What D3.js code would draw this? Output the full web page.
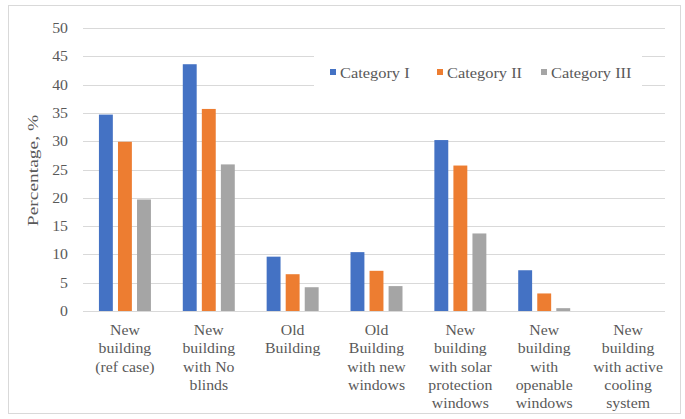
<!DOCTYPE html>
<html>
<head>
<meta charset="utf-8">
<script src="https://cdn.jsdelivr.net/npm/d3@7"></script>
<style>
  body { margin: 0; background: #fff; }
  svg text { font-family: "Liberation Serif", "Times New Roman", serif; }
</style>
</head>
<body>
<svg id="chart" width="685" height="419"></svg>
<script>
const categories = [
  ['New', 'building', '(ref case)'],
  ['New', 'building', 'with No', 'blinds'],
  ['Old', 'Building'],
  ['Old', 'Building', 'with new', 'windows'],
  ['New', 'building', 'with solar', 'protection', 'windows'],
  ['New', 'building', 'with', 'openable', 'windows'],
  ['New', 'building', 'with active', 'cooling', 'system']
];
const seriesNames = ['Category I', 'Category II', 'Category III'];
const categoryI = [34.7, 43.6, 9.6, 10.4, 30.2, 7.2, 0];
const categoryII = [29.9, 35.7, 6.5, 7.1, 25.7, 3.1, 0];
const categoryIII = [19.7, 25.9, 4.2, 4.4, 13.7, 0.5, 0];
const yTicks = [0, 5, 10, 15, 20, 25, 30, 35, 40, 45, 50];

const colors = ['#4472C4', '#ED7D31', '#A5A5A5'];
const series = [categoryI, categoryII, categoryIII];
const font = '"Liberation Serif", "Times New Roman", serif';
const stretch = 1.13; // text in the picture is a bit wider than tall

const svg = d3.select('#chart');
const width = 685, height = 419;
const margin = { top: 28, right: 20, bottom: 108, left: 83 };

// outer border
svg.append('rect')
  .attr('x', 8.5).attr('y', 5.5)
  .attr('width', 672).attr('height', 408)
  .attr('fill', '#fff')
  .attr('stroke', '#d9d9d9');

const x0 = d3.scaleBand()
  .domain(d3.range(categories.length))
  .range([margin.left, 670])
  .paddingInner(0.38)
  .paddingOuter(0.19);

const x1 = d3.scaleBand()
  .domain(d3.range(seriesNames.length))
  .range([0, x0.bandwidth()])
  .paddingInner(0.27)
  .paddingOuter(0);

const y = d3.scaleLinear()
  .domain([0, 50])
  .range([height - margin.bottom, margin.top]);

// gridlines
svg.append('g')
  .selectAll('line')
  .data(yTicks)
  .join('line')
  .attr('x1', margin.left)
  .attr('x2', width - margin.right)
  .attr('y1', d => Math.round(y(d)) + 0.5)
  .attr('y2', d => Math.round(y(d)) + 0.5)
  .attr('stroke', '#d9d9d9')
  .attr('stroke-width', 1);

// y axis labels
svg.append('g')
  .selectAll('text')
  .data(yTicks)
  .join('text')
  .attr('transform', d => `translate(68,${y(d) + 5}) scale(${stretch},1)`)
  .attr('text-anchor', 'end')
  .attr('fill', '#595959')
  .attr('font-family', font)
  .attr('font-size', 14)
  .text(d => d);

// y title
svg.append('text')
  .attr('transform', `translate(38,${y(25) + 1}) rotate(-90) scale(1.3,1)`)
  .attr('text-anchor', 'middle')
  .attr('fill', '#595959')
  .attr('font-family', font)
  .attr('font-size', 15)
  .text('Percentage, %');

// bars
const groups = svg.append('g')
  .selectAll('g')
  .data(categories.map((c, i) => i))
  .join('g')
  .attr('transform', i => `translate(${x0(i)},0)`);

groups.selectAll('rect')
  .data(i => series.map((s, k) => ({ k, v: s[i] })))
  .join('rect')
  .attr('x', d => x1(d.k))
  .attr('y', d => y(d.v))
  .attr('width', x1.bandwidth())
  .attr('height', d => y(0) - y(d.v))
  .attr('fill', d => colors[d.k]);

// category labels
const labels = svg.append('g')
  .selectAll('text')
  .data(categories)
  .join('text')
  .attr('transform', (d, i) => `translate(${x0(i) + x0.bandwidth() / 2},335) scale(${stretch},1)`)
  .attr('text-anchor', 'middle')
  .attr('fill', '#595959')
  .attr('font-family', font)
  .attr('font-size', 14);
labels.selectAll('tspan')
  .data(d => d)
  .join('tspan')
  .attr('x', 0)
  .attr('dy', (d, j) => j === 0 ? 0 : 18.3)
  .text(d => d);

// legend
svg.append('rect')
  .attr('x', 314).attr('y', 50)
  .attr('width', 328).attr('height', 42)
  .attr('fill', '#fff');

const legendX = [330, 437, 541];
const legend = svg.append('g')
  .selectAll('g')
  .data(seriesNames)
  .join('g')
  .attr('transform', (d, i) => `translate(${legendX[i]},78)`);
legend.append('rect')
  .attr('x', 0).attr('y', -9)
  .attr('width', 6).attr('height', 6)
  .attr('fill', (d, i) => colors[i]);
legend.append('text')
  .attr('transform', `translate(10,0) scale(${stretch},1)`)
  .attr('fill', '#595959')
  .attr('font-family', font)
  .attr('font-size', 14.5)
  .text(d => d);
</script>
</body>
</html>
